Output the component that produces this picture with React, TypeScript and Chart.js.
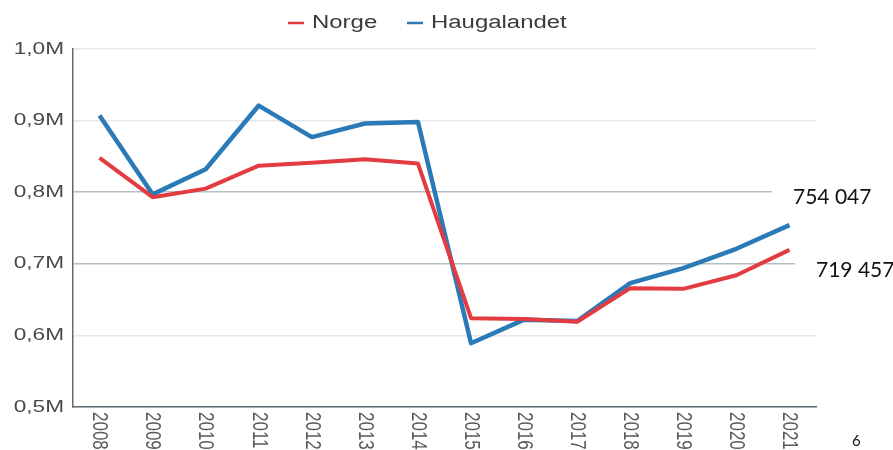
import React, { useEffect, useRef } from "react";
import { Chart, registerables } from "chart.js";

Chart.register(...registerables);

const years = ["2008","2009","2010","2011","2012","2013","2014","2015","2016","2017","2018","2019","2020","2021"];
const norge = [848000, 793000, 805000, 837000, 841000, 846000, 840000, 624000, 623000, 619000, 666000, 665000, 684000, 719457];
const haugalandet = [907000, 797000, 832000, 921000, 877000, 896000, 898000, 589000, 622000, 620000, 673000, 694000, 721000, 754047];
const yTicks = [500000, 600000, 700000, 800000, 900000, 1000000];
const endLabels = ["754 047", "719 457"];
const pageLabel = "6";

const RED = "#e23b40";
const BLUE = "#2a7ab8";
const SX = 1.33; // horizontal stretch of the original screenshot
const FONT = "'Liberation Sans', Arial, sans-serif";

const fmt = (v: number) => (v / 1000000).toFixed(1).replace(".", ",") + "M";

export default function App() {
  const ref = useRef<HTMLCanvasElement | null>(null);
  useEffect(() => {
    document.body.style.margin = "0";
    const canvas = ref.current!;
    const overlay = {
      id: "overlay",
      afterDraw(chart: any) {
        const ctx = chart.ctx;
        const xs = chart.scales.x;
        const ys = chart.scales.y;
        const area = chart.chartArea;
        ctx.save();
        // y labels
        ctx.fillStyle = "#4a4a4a";
        ctx.font = "17px " + FONT;
        ctx.textAlign = "right";
        ctx.textBaseline = "middle";
        yTicks.forEach((v) => {
          const y = ys.getPixelForValue(v);
          ctx.save();
          ctx.translate(64, y);
          ctx.scale(SX, 1);
          ctx.fillText(fmt(v), 0, 0);
          ctx.restore();
        });
        // rotated x labels (top-to-bottom)
        ctx.fillStyle = "#5a5a5a";
        ctx.font = "17px " + FONT;
        ctx.textAlign = "left";
        ctx.textBaseline = "middle";
        years.forEach((y, i) => {
          const x = xs.getPixelForTick(i);
          ctx.save();
          ctx.translate(x, area.bottom + 5);
          ctx.scale(SX, 1);
          ctx.rotate(Math.PI / 2);
          ctx.fillText(y, 0, 0);
          ctx.restore();
        });
        // legend
        const items = [
          { label: "Norge", color: RED, x: 288 },
          { label: "Haugalandet", color: BLUE, x: 407 },
        ];
        ctx.font = "18px " + FONT;
        ctx.textAlign = "left";
        ctx.textBaseline = "middle";
        items.forEach((it) => {
          ctx.strokeStyle = it.color;
          ctx.lineWidth = 2.5;
          ctx.beginPath();
          ctx.moveTo(it.x, 23);
          ctx.lineTo(it.x + 16, 23);
          ctx.stroke();
          ctx.fillStyle = "#3a3a3a";
          ctx.save();
          ctx.translate(it.x + 24, 23);
          ctx.scale(SX, 1);
          ctx.fillText(it.label, 0, 0);
          ctx.restore();
        });
        // end value labels with white backgrounds
        ctx.fillStyle = "#ffffff";
        ctx.fillRect(772, 185, 121, 25);
        ctx.fillRect(795, 258, 98, 25);
        ctx.fillStyle = "#111";
        ctx.font = "21px Lato";
        ctx.textAlign = "left";
        ctx.fillText(endLabels[0], 793, 197);
        ctx.fillText(endLabels[1], 816, 270);
        ctx.font = "15px Lato";
        ctx.fillText(pageLabel, 852, 441);
        ctx.restore();
      },
    };
    const chart = new Chart(canvas, {
      type: "line",
      data: {
        labels: years,
        datasets: [
          { label: "Norge", data: norge, borderColor: RED, backgroundColor: RED, borderWidth: 4, pointRadius: 0, tension: 0, borderJoinStyle: "round" },
          { label: "Haugalandet", data: haugalandet, borderColor: BLUE, backgroundColor: BLUE, borderWidth: 4.5, pointRadius: 0, tension: 0, borderJoinStyle: "round" },
        ],
      },
      options: {
        responsive: false,
        animation: false,
        layout: { padding: { left: 0, right: 77, top: 49, bottom: 0 } },
        plugins: { legend: { display: false }, tooltip: { enabled: false } },
        scales: {
          x: {
            offset: true,
            grid: { display: false },
            border: { display: true, color: "#5f6b73", width: 1.5 },
            ticks: { display: false },
            afterFit: (s: any) => { s.height = 43; },
          },
          y: {
            min: 500000,
            max: 1000000,
            afterBuildTicks: (s: any) => { s.ticks = yTicks.map((v) => ({ value: v })); },
            afterFit: (s: any) => { s.width = 73; },
            border: { display: true, color: "#5f6b73", width: 1.5 },
            grid: {
              drawTicks: false,
              color: (c: any) => (c.tick && (c.tick.value === 800000 || c.tick.value === 700000) ? "#b3c0c5" : "#e8e8e8"),
              lineWidth: 1.5,
            },
            ticks: { display: false },
          },
        },
      },
      plugins: [overlay],
    } as any);
    return () => chart.destroy();
  }, []);
  return <canvas ref={ref} width={893} height={450} style={{ display: "block" }} />;
}
